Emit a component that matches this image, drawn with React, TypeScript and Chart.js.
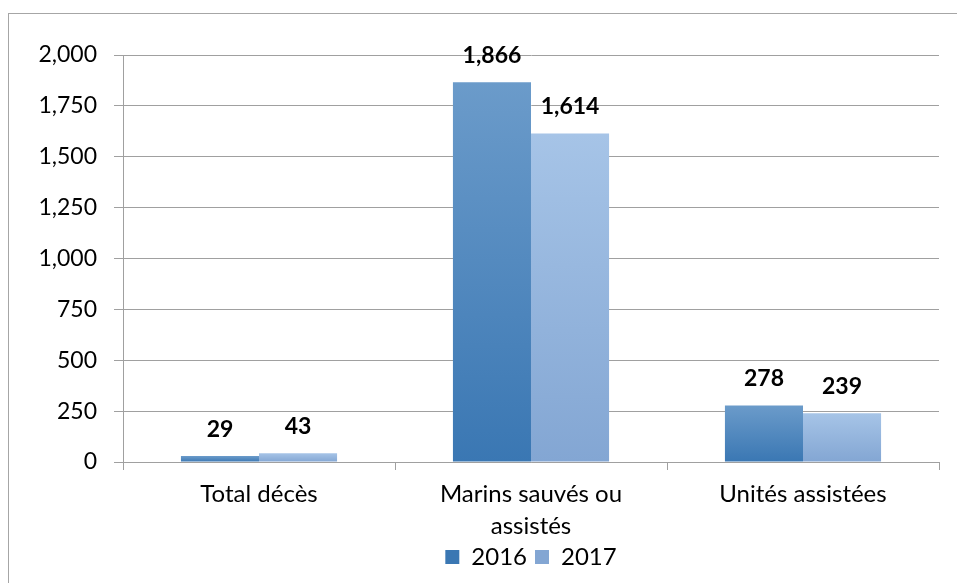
import React, { useEffect, useRef } from "react";
import { Chart, registerables } from "chart.js";

Chart.register(...registerables);

const categories: (string | string[])[] = ["Total décès", ["Marins sauvés ou", "assistés"], "Unités assistées"];
const series2016 = [29, 1866, 278];
const series2017 = [43, 1614, 239];
const seriesLabels = ["2016", "2017"];
const yTicks = [0, 250, 500, 750, 1000, 1250, 1500, 1750, 2000];

const FONT = "Lato, 'Open Sans', sans-serif";

function gradientFill(top: string, bottom: string, mid: string) {
  return (ctx: any) => {
    const chart = ctx.chart;
    const y = chart.scales && chart.scales.y;
    if (ctx.type !== "data" || !y) return mid;
    const t = y.getPixelForValue(ctx.raw);
    const b = y.getPixelForValue(0);
    if (!isFinite(t) || !isFinite(b) || Math.abs(b - t) < 1) return mid;
    const g = chart.ctx.createLinearGradient(0, t, 0, b);
    g.addColorStop(0, top);
    g.addColorStop(1, bottom);
    return g;
  };
}

const valueLabels = {
  id: "valueLabels",
  afterDatasetsDraw(chart: any) {
    const { ctx } = chart;
    ctx.save();
    ctx.font = `bold 23px ${FONT}`;
    ctx.fillStyle = "#000";
    ctx.textAlign = "center";
    ctx.textBaseline = "middle";
    chart.data.datasets.forEach((ds: any, di: number) => {
      const meta = chart.getDatasetMeta(di);
      meta.data.forEach((bar: any, i: number) => {
        ctx.fillText(Number(ds.data[i]).toLocaleString("en-US"), bar.x, bar.y - 27);
      });
    });
    ctx.restore();
  },
};

export default function App() {
  const ref = useRef<HTMLCanvasElement | null>(null);
  useEffect(() => {
    if (!ref.current) return;
    const chart = new Chart(ref.current, {
      type: "bar",
      data: {
        labels: categories,
        datasets: [
          {
            label: seriesLabels[0],
            data: series2016,
            backgroundColor: gradientFill("#6b9bca", "#3a77b3", "#4a80bb"),
            borderWidth: 0,
          },
          {
            label: seriesLabels[1],
            data: series2017,
            backgroundColor: gradientFill("#a6c4e7", "#83a6d3", "#98b8e0"),
            borderWidth: 0,
          },
        ],
      },
      options: {
        responsive: false,
        animation: false,
        layout: { padding: { top: 55, right: 18, bottom: 4, left: 0 } },
        datasets: { bar: { categoryPercentage: 0.574, barPercentage: 1 } },
        plugins: {
          legend: {
            position: "bottom",
            fullSize: false,
            labels: {
              font: { family: FONT, size: 24 },
              color: "#000",
              boxWidth: 14,
              boxHeight: 14,
              padding: 8,
            },
          },
          tooltip: { enabled: false },
        },
        scales: {
          x: {
            grid: { drawOnChartArea: false, drawTicks: true, tickLength: 8, color: "#a0a0a0", offset: true },
            border: { display: true, color: "#a0a0a0" },
            ticks: { font: { family: FONT, size: 24, lineHeight: 1.34 }, color: "#000", padding: 8, maxRotation: 0 },
            afterFit: (s: any) => {
              s.height = 75;
            },
          },
          y: {
            min: 0,
            max: 2000,
            afterBuildTicks: (s: any) => {
              s.ticks = yTicks.map((v) => ({ value: v }));
            },
            grid: { color: "#a0a0a0", tickLength: 9 },
            border: { display: true, color: "#a0a0a0" },
            ticks: {
              font: { family: FONT, size: 23 },
              color: "#000",
              padding: 17,
              callback: (v: any) => Number(v).toLocaleString("en-US"),
            },
            afterFit: (s: any) => {
              s.width = 123;
            },
          },
        },
      },
      plugins: [valueLabels],
    });
    return () => chart.destroy();
  }, []);

  return (
    <div style={{ position: "fixed", left: 0, top: 0, width: 957, height: 583, overflow: "hidden", background: "#fff" }}>
      <div
        style={{
          position: "absolute",
          left: 8,
          top: 13,
          width: 1000,
          height: 700,
          border: "1px solid #a6a6a6",
          boxSizing: "border-box",
        }}
      />
      <canvas ref={ref} width={957} height={583} style={{ position: "absolute", left: 0, top: 0, width: 957, height: 583 }} />
    </div>
  );
}
